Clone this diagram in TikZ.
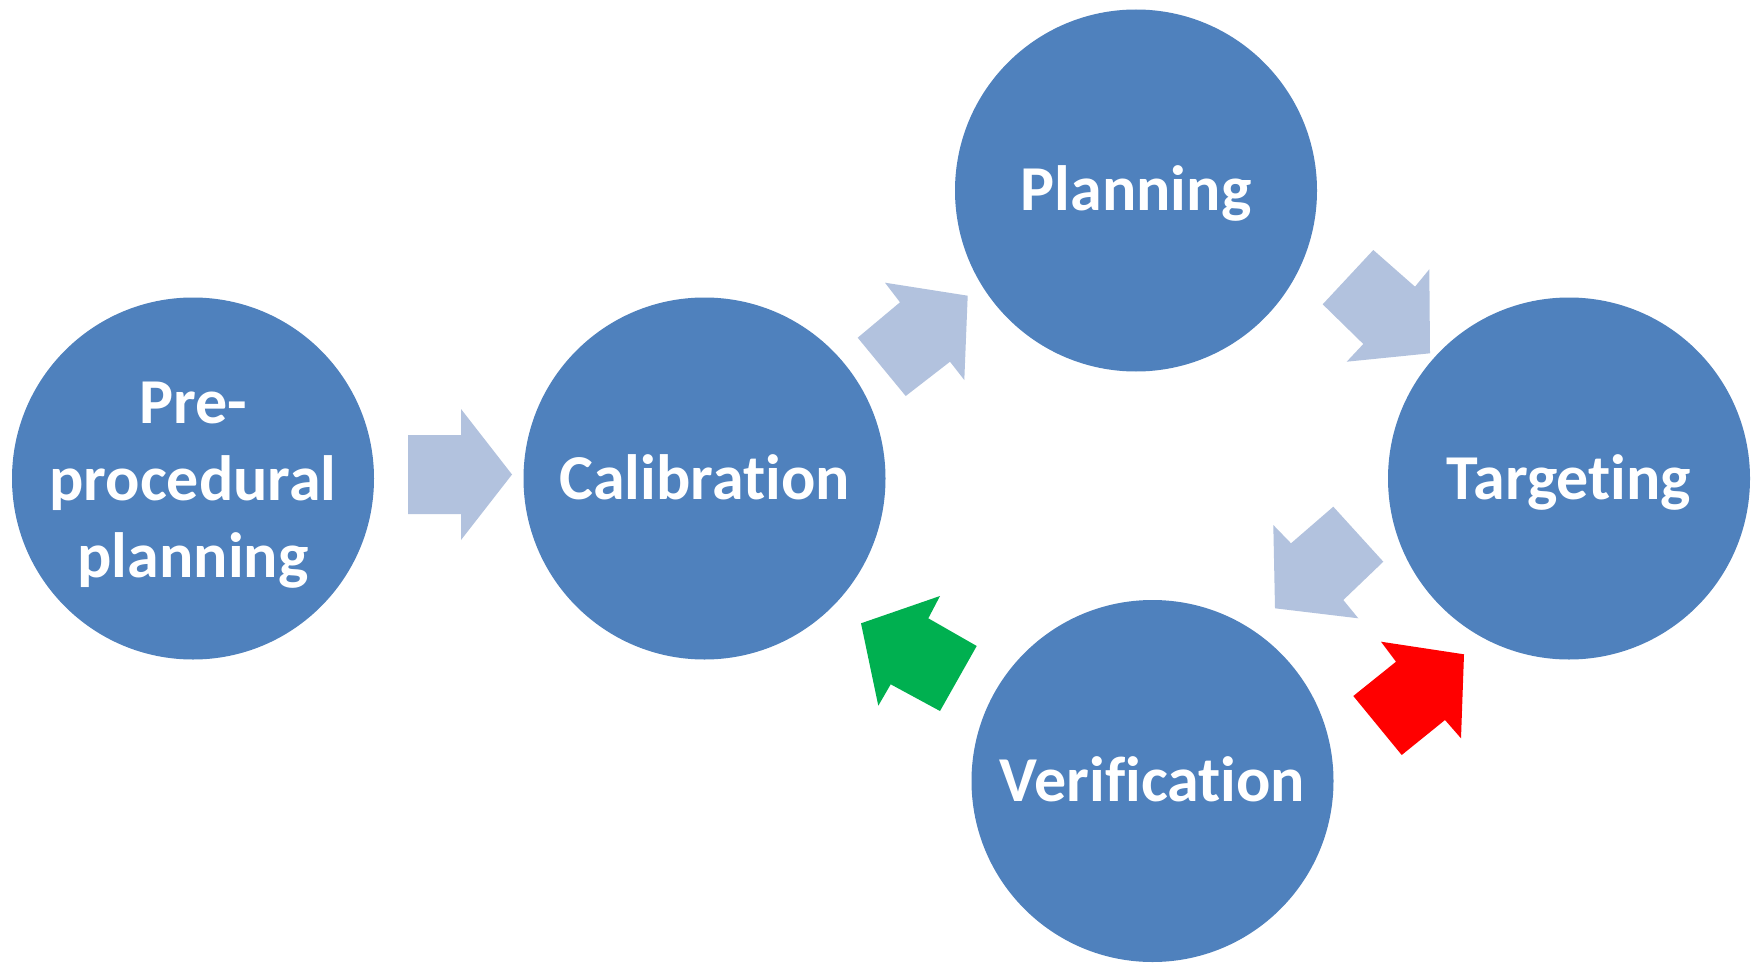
\documentclass[tikz,border=0pt]{standalone}
\usepackage{fontspec}
\setmainfont[Ligatures={NoCommon}]{Carlito}
\definecolor{circblue}{RGB}{79,129,189}
\definecolor{arrlight}{RGB}{178,194,222}
\definecolor{arrred}{RGB}{255,0,0}
\definecolor{arrgreen}{RGB}{0,176,80}
\begin{document}
\begin{tikzpicture}[x=1pt,y=-1pt,
  stage/.style={circle,fill=circblue,draw=none,minimum size=362pt,inner sep=0pt},
  stagetext/.style={text=white,font=\fontsize{64}{77}\selectfont\bfseries,align=center,inner sep=0pt},
  lightarrow/.style={fill=arrlight,draw=none},
  redarrow/.style={fill=arrred,draw=none},
  greenarrow/.style={fill=arrgreen,draw=none}]
\useasboundingbox (0,0) rectangle (1753,963);
\fill[white] (0,0) rectangle (1753,963);
% circles
\node[stage] (pre) at (193,478.5) {};
\node[stage] (cal) at (704.5,478.5) {};
\node[stage] (plan) at (1136,190.5) {};
\node[stage] (targ) at (1569,478.5) {};
\node[stage] (ver) at (1152.5,781) {};
% labels
\node[stagetext,anchor=base] (pretxt) at (193,577.5) {Pre-\\procedural\\planning};
\node[stagetext,anchor=base] (caltxt) at (704.5,499.5) {Calibration};
\node[stagetext,anchor=base] (plantxt) at (1136,210.5) {Planning};
\node[stagetext,anchor=base] (targtxt) at (1569,499.5) {Targeting};
\node[stagetext,anchor=base] (vertxt) at (1152.5,801.5) {Verification};
% block arrows
\fill[lightarrow] (408,435) -- (461,435) -- (461,409) -- (512,474.5) -- (461,540) -- (461,514) -- (408,514) -- cycle;
\fill[lightarrow] (857.7,337.7) -- (900,302.3) -- (885,282.7) -- (967.7,295.7) -- (964.3,380) -- (950,361.7) -- (905.7,396) -- cycle;
\fill[lightarrow] (1373.3,250) -- (1415,286.7) -- (1429.3,269.3) -- (1430,353.3) -- (1346.7,361.7) -- (1363.3,344) -- (1322.7,304.3) -- cycle;
\fill[lightarrow] (1383.3,561.7) -- (1343.3,600) -- (1358.3,618.3) -- (1275,608.3) -- (1273.3,525) -- (1291,543.3) -- (1333.3,506.7) -- cycle;
\fill[redarrow] (1353.3,696) -- (1396,661.7) -- (1381,641.7) -- (1464,654.3) -- (1461,738.3) -- (1445,720) -- (1401.7,755) -- cycle;
\fill[greenarrow] (976.7,646) -- (928.3,618.3) -- (940,596) -- (861,623.3) -- (878.3,705.7) -- (890.7,684.3) -- (940,711) -- cycle;
\end{tikzpicture}
\end{document}
